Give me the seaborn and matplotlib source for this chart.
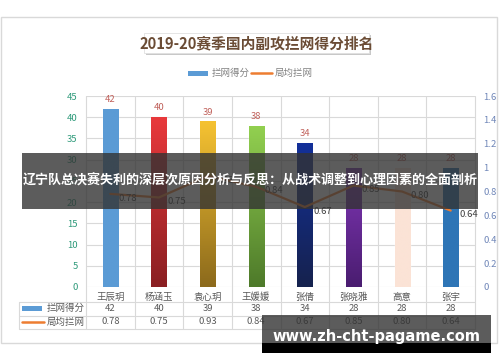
import numpy as np
import pandas as pd
import matplotlib
matplotlib.use("Agg")
import matplotlib.pyplot as plt
from matplotlib.patches import Rectangle
from matplotlib.lines import Line2D
from matplotlib.colors import LinearSegmentedColormap
import seaborn as sns

sns.set_theme(style="white")
plt.rcParams['font.family'] = ['Noto Sans CJK SC', 'DejaVu Sans']

# ---- data ----
players = ["王辰玥", "杨涵玉", "袁心玥", "王媛媛", "张倩", "张晓雅", "高意", "张宇"]
block_points = [42, 40, 39, 38, 34, 28, 28, 28]
blocks_per_set = [0.78, 0.75, 0.93, 0.84, 0.67, 0.85, 0.80, 0.64]
bar_top_colors = ["#5b9bd5", "#e8393c", "#f5c232", "#92d050", "#13309a", "#8036b6", "#fbe3d6", "#2e75b6"]
bar_bottom_colors = ["#5b9bd5", "#8a1f22", "#8c6a1c", "#4e7a2a", "#16224e", "#4a1d70", "#fbe3d6", "#2e75b6"]
left_ticks = [0, 5, 10, 15, 20, 25, 30, 35, 40, 45]
right_ticks = [0, 0.2, 0.4, 0.6, 0.8, 1.0, 1.2, 1.4, 1.6]
right_tick_labels = ["0", "0.2", "0.4", "0.6", "0.8", "1", "1.2", "1.4", "1.6"]
title = "2019-20赛季国内副攻拦网得分排名"
series_names = ["拦网得分", "局均拦网"]
banner = "辽宁队总决赛失利的深层次原因分析与反思：从战术调整到心理因素的全面剖析"
watermark = "www.zh-cht-pagame.com"

df = pd.DataFrame({"player": players, "points": block_points, "per_set": blocks_per_set,
                   "idx": np.arange(len(players))})

W, H = 500, 362
fig = plt.figure(figsize=(W / 100, H / 100), dpi=100)
fig.patch.set_facecolor("white")

def fx(px):
    return px / W

def fy(py):
    return 1 - py / H

L, R, T, B = 86, 475, 96, 287
ax = fig.add_axes([fx(L), fy(B), fx(R - L), (B - T) / H])
ax.set_facecolor("white")

grid_c = "#d9d9d9"
sns.barplot(data=df, x="player", y="points", hue="player", palette=bar_top_colors,
            width=0.31, legend=False, ax=ax, zorder=3)

bars = [p for p in ax.patches if isinstance(p, Rectangle)]
for i, p in enumerate(bars):
    x0, w, h = p.get_x(), p.get_width(), p.get_height()
    cmap = LinearSegmentedColormap.from_list("g", [bar_bottom_colors[i], bar_top_colors[i]])
    grad = np.linspace(0, 1, 64).reshape(-1, 1)
    im = ax.imshow(grad, extent=[x0, x0 + w, 0, h], origin="lower", aspect="auto",
                   cmap=cmap, zorder=3.5, interpolation="bicubic")
    im.set_clip_path(p)
    ax.annotate(f"{h:g}", (x0 + w / 2, h), xytext=(0, 3.5), textcoords="offset points",
                ha="center", va="bottom", fontsize=6.8, color="#c0605a")

ax.set_xlim(-0.5, len(players) - 0.5)
ax.set_ylim(0, 45)
ax.set_yticks(left_ticks)
ax.set_yticklabels([str(t) for t in left_ticks])
ax.tick_params(axis="y", colors="#2e9a7a", labelsize=6.8, length=0, pad=6)
ax.tick_params(axis="x", colors="#595959", labelsize=6.8, length=0, pad=4)
ax.set_xlabel("")
ax.set_ylabel("")
for s in ax.spines.values():
    s.set_visible(False)
ax.yaxis.grid(True, color=grid_c, linewidth=0.8, zorder=0)
ax.set_axisbelow(True)

ax2 = ax.twinx()
sns.lineplot(data=df, x="idx", y="per_set", ax=ax2, color="#ed7d31", linewidth=1.6,
             sort=False, legend=False)
ax2.set_ylim(0, 1.6)
ax2.set_yticks(right_ticks)
ax2.set_yticklabels(right_tick_labels)
ax2.tick_params(axis="y", colors="#6f86b8", labelsize=6.8, length=0, pad=6)
ax2.set_ylabel("")
ax2.set_xlabel("")
ax2.set_xlim(-0.5, len(players) - 0.5)
for s in ax2.spines.values():
    s.set_visible(False)
for i, v in enumerate(blocks_per_set):
    ax2.annotate(f"{v:.2f}", (i, v), xytext=(6, -3), textcoords="offset points",
                 ha="left", va="center", fontsize=6.8, color="#404040")

# vertical category boundaries through plot and table
trans = ax.get_xaxis_transform()
y_table_bottom = (B - 329) / (B - T)
for k in range(len(players) + 1):
    ax.plot([k - 0.5, k - 0.5], [1, y_table_bottom], transform=trans, color=grid_c,
            linewidth=0.8, clip_on=False, zorder=1)

# data table
row_y = [(B - 308.5) / (B - T), (B - 322) / (B - T)]
for i in range(len(players)):
    ax.text(i, row_y[0], str(block_points[i]), transform=trans, ha="center", va="center",
            fontsize=6.8, color="#595959")
    ax.text(i, row_y[1], f"{blocks_per_set[i]:.2f}", transform=trans, ha="center", va="center",
            fontsize=6.8, color="#595959")

for yy in (302, 315.5, 329):
    fig.add_artist(Line2D([fx(19), fx(R)], [fy(yy), fy(yy)], color=grid_c, linewidth=0.8))
fig.add_artist(Line2D([fx(19), fx(19)], [fy(302), fy(329)], color=grid_c, linewidth=0.8))
fig.add_artist(Rectangle((fx(22), fy(310.5)), fx(20), 5 / H, color="#5b9bd5", lw=0))
fig.text(fx(47), fy(308.5), series_names[0], fontsize=6.8, color="#595959", va="center")
fig.add_artist(Line2D([fx(22), fx(44)], [fy(322), fy(322)], color="#ed7d31", linewidth=1.8))
fig.text(fx(47), fy(322), series_names[1], fontsize=6.8, color="#595959", va="center")

# card border
fig.add_artist(Rectangle((fx(1), fy(343)), fx(496), 326 / H, fill=False,
                         edgecolor="#d9d9d9", linewidth=1.0))

# title box with shadow
fig.add_artist(Rectangle((fx(146), fy(55)), fx(225), 20 / H, facecolor="#c8c8c8",
                         edgecolor="none", zorder=1))
fig.add_artist(Rectangle((fx(144), fy(53)), fx(225), 20 / H, facecolor="white",
                         edgecolor="#e0e0e0", linewidth=0.6, zorder=1.5))
fig.text(fx(257), fy(43.5), title, fontsize=10.6, fontweight="bold", color="#6b4c35",
         ha="center", va="center", zorder=3)

# legend
fig.add_artist(Rectangle((fx(188), fy(75.5)), fx(20), 5 / H, color="#5b9bd5", lw=0))
fig.text(fx(212), fy(73), series_names[0], fontsize=6.8, color="#808080", va="center")
fig.add_artist(Line2D([fx(251), fx(272)], [fy(73), fy(73)], color="#ed7d31", linewidth=1.8))
fig.text(fx(275), fy(73), series_names[1], fontsize=6.8, color="#808080", va="center")

# overlay banner
fig.add_artist(Rectangle((fx(22), fy(209)), fx(456), 56 / H, facecolor=(0.2, 0.2, 0.2),
                         alpha=0.8, edgecolor="none", zorder=5))
fig.text(fx(250), fy(181), banner, fontsize=9.4, fontweight="bold", color="white",
         ha="center", va="center", zorder=6)

# watermark
fig.add_artist(Rectangle((fx(262), fy(343)), fx(229), 28 / H, facecolor=(0.2, 0.2, 0.2),
                         alpha=0.8, edgecolor="none", zorder=5))
fig.add_artist(Rectangle((fx(262), fy(353)), fx(229), 10 / H, facecolor="black",
                         edgecolor="none", zorder=5))
fig.text(fx(376), fy(337), watermark, fontsize=10.5, fontweight="bold", color="white",
         ha="center", va="center", zorder=6, family="DejaVu Sans")

fig.savefig("out.png", dpi=100)
